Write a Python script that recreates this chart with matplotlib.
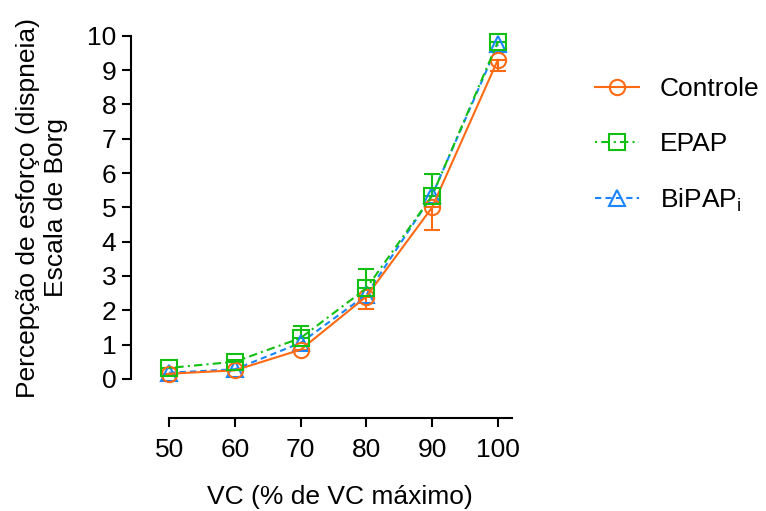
import matplotlib.pyplot as plt
from matplotlib.lines import Line2D

plt.rcParams['font.family'] = ['Liberation Sans', 'DejaVu Sans']

vc = [50, 60, 70, 80, 90, 100]

controle = [0.15, 0.25, 0.85, 2.4, 5.0, 9.3]
controle_err = [0.0, 0.0, 0.0, 0.35, 0.65, 0.32]   # lower only

epap = [0.32, 0.5, 1.19, 2.64, 5.34, 9.82]
epap_err = [0.0, 0.05, 0.36, 0.56, 0.63, 0.0]      # upper only

bipap = [0.18, 0.28, 1.05, 2.45, 5.35, 9.75]

fig = plt.figure(figsize=(7.66, 5.11), dpi=100)
ax = fig.add_axes([0.171, 0.182, 0.497, 0.748])

c_orange = '#FF6A13'
c_green = '#11C011'
c_blue = '#1A85FF'
ls_epap = (0, (1, 2, 4, 2))
ls_bipap = (0, (3, 2))

ax.errorbar(vc, controle, yerr=[controle_err, [0] * 6], color=c_orange,
            ls='-', lw=1.5, marker='o', ms=11, mfc='none', mew=1.5,
            capsize=6, capthick=2, elinewidth=1.5, clip_on=False)
ax.errorbar(vc, epap, yerr=[[0] * 6, epap_err], color=c_green,
            ls=ls_epap, lw=1.5, marker='s', ms=11, mfc='none', mew=1.5,
            capsize=6, capthick=2, elinewidth=1.5, clip_on=False)
ax.plot(vc, bipap, color=c_blue, ls=ls_bipap, lw=1.5, marker='^', ms=11,
        mfc='none', mew=1.5, clip_on=False)

ax.set_xlim(44.2, 102.1)
ax.set_ylim(-1.14, 10)
ax.set_xticks(vc)
ax.set_yticks(range(11))
ax.spines['top'].set_visible(False)
ax.spines['right'].set_visible(False)
ax.spines['left'].set_bounds(0, 10)
ax.spines['bottom'].set_bounds(50, 102.1)
for s in ax.spines.values():
    s.set_linewidth(1.5)
ax.tick_params(axis='both', labelsize=19, width=1.5, length=6.5, direction='out')
ax.tick_params(axis='x', pad=8)
ax.tick_params(axis='y', pad=4)

ax.set_xlabel('VC (% de VC máximo)', fontsize=19)
ax.set_ylabel('Percepção de esforço (dispneia)\nEscala de Borg', fontsize=19)
# center labels on the drawn spines
ax.xaxis.set_label_coords(0.548, -0.175)
ax.yaxis.set_label_coords(-0.165, 0.55)

handles = [
    Line2D([], [], color=c_orange, ls='-', lw=1.5, marker='o', ms=11, mfc='none', mew=1.5),
    Line2D([], [], color=c_green, ls=ls_epap, lw=1.5, marker='s', ms=11, mfc='none', mew=1.5),
    Line2D([], [], color=c_blue, ls=ls_bipap, lw=1.5, marker='^', ms=11, mfc='none', mew=1.5),
]
labels = ['Controle', 'EPAP', 'BiPAP$_{\\mathregular{i}}$']
fig.legend(handles, labels, loc='upper left', bbox_to_anchor=(0.746, 0.895),
           frameon=False, fontsize=19, labelspacing=1.15, handlelength=1.65,
           handletextpad=0.8)

fig.savefig('out.png', dpi=100)
